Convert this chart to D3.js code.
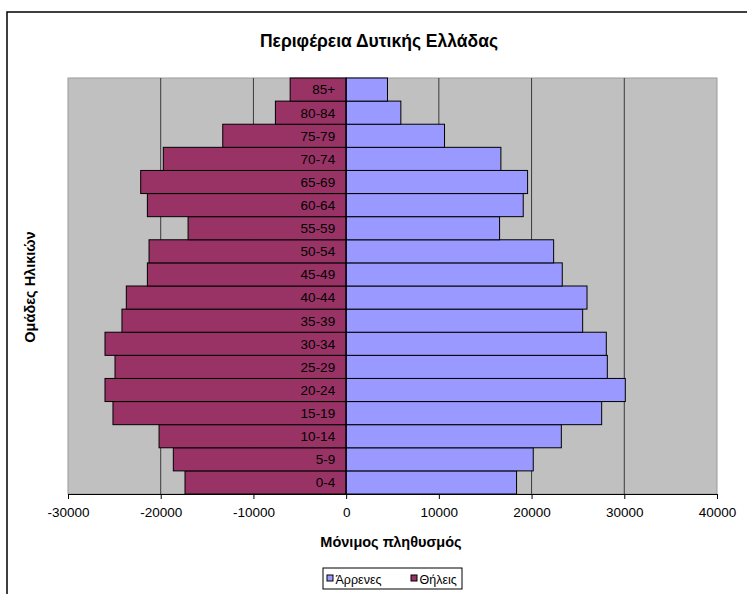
<!DOCTYPE html>
<html>
<head>
<meta charset="utf-8">
<script src="https://cdn.jsdelivr.net/npm/d3@7"></script>
<style>
  body { margin: 0; background: #fff; }
  text { font-family: "Liberation Sans", Arial, sans-serif; fill: #000; }
</style>
</head>
<body>
<svg id="chart"></svg>
<script>
// Age groups, bottom to top
const ageGroups = ["0-4", "5-9", "10-14", "15-19", "20-24", "25-29", "30-34", "35-39", "40-44",
  "45-49", "50-54", "55-59", "60-64", "65-69", "70-74", "75-79", "80-84", "85+"];
// Males (positive side)
const males = [18380, 20180, 23210, 27560, 30110, 28170, 28060, 25510, 25980,
  23310, 22380, 16550, 19100, 19570, 16690, 10610, 5900, 4460];
// Females (drawn on the negative side)
const females = [-17380, -18640, -20180, -25150, -26010, -24930, -26010, -24180, -23710,
  -21440, -21260, -17050, -21440, -22160, -19720, -13310, -7630, -6040];
const xTicks = [-30000, -20000, -10000, 0, 10000, 20000, 30000, 40000];
const seriesNames = ["Άρρενες", "Θήλεις"];

const W = 747, H = 594;
const plot = { left: 68, right: 717, top: 78, bottom: 494 };

const svg = d3.select("#chart")
  .attr("width", W)
  .attr("height", H);

// outer chart border (runs off the right/bottom edge)
svg.append("rect")
  .attr("x", 7).attr("y", 12)
  .attr("width", 800).attr("height", 700)
  .attr("fill", "#fff")
  .attr("stroke", "#000")
  .attr("stroke-width", 1.5);

const x = d3.scaleLinear()
  .domain([-30000, 40000])
  .range([plot.left, plot.right]);

const y = d3.scaleBand()
  .domain(ageGroups.slice().reverse())
  .range([plot.top, plot.bottom])
  .padding(0);

// plot background
svg.append("rect")
  .attr("x", plot.left).attr("y", plot.top)
  .attr("width", plot.right - plot.left)
  .attr("height", plot.bottom - plot.top)
  .attr("fill", "#c0c0c0")
  .attr("stroke", "#9a9a9a");

// vertical gridlines
svg.append("g")
  .selectAll("line")
  .data(xTicks.slice(1, -1))
  .enter()
  .append("line")
  .attr("x1", d => x(d)).attr("x2", d => x(d))
  .attr("y1", plot.top).attr("y2", plot.bottom)
  .attr("stroke", "#3a3a3a")
  .attr("stroke-width", 1);

// bars
const rows = ageGroups.map((g, i) => ({ g, m: males[i], f: females[i] }));

svg.append("g")
  .selectAll("rect")
  .data(rows)
  .enter()
  .append("rect")
  .attr("x", d => x(d.f))
  .attr("y", d => y(d.g))
  .attr("width", d => x(0) - x(d.f))
  .attr("height", y.bandwidth())
  .attr("fill", "#993366")
  .attr("stroke", "#000")
  .attr("stroke-width", 1);

svg.append("g")
  .selectAll("rect")
  .data(rows)
  .enter()
  .append("rect")
  .attr("x", x(0))
  .attr("y", d => y(d.g))
  .attr("width", d => x(d.m) - x(0))
  .attr("height", y.bandwidth())
  .attr("fill", "#9999ff")
  .attr("stroke", "#000")
  .attr("stroke-width", 1);

// vertical axis line at zero
svg.append("line")
  .attr("x1", x(0)).attr("x2", x(0))
  .attr("y1", plot.top).attr("y2", plot.bottom)
  .attr("stroke", "#000");

// category labels sit on top of the bars
svg.append("g")
  .selectAll("text")
  .data(ageGroups)
  .enter()
  .append("text")
  .attr("x", x(0) - 11)
  .attr("y", d => y(d) + y.bandwidth() / 2)
  .attr("dy", "0.36em")
  .attr("text-anchor", "end")
  .style("font-size", "13.5px")
  .text(d => d);

// x axis
const xAxis = svg.append("g")
  .attr("transform", "translate(0," + plot.bottom + ")")
  .call(d3.axisBottom(x)
    .tickValues(xTicks)
    .tickSize(5)
    .tickPadding(8)
    .tickFormat(d => String(d)));
xAxis.select(".domain").attr("stroke", "#000");
xAxis.selectAll(".tick line").attr("stroke", "#000");
xAxis.selectAll(".tick text")
  .style("font-size", "13.5px")
  .style("font-family", "'Liberation Sans', Arial, sans-serif")
  .attr("fill", "#000");

// title
svg.append("text")
  .attr("x", 379).attr("y", 47)
  .attr("text-anchor", "middle")
  .style("font-size", "17.5px")
  .style("font-weight", "bold")
  .text("Περιφέρεια Δυτικής Ελλάδας");

// axis titles
svg.append("text")
  .attr("transform", "translate(35,287) rotate(-90)")
  .attr("text-anchor", "middle")
  .style("font-size", "14.5px")
  .style("font-weight", "bold")
  .text("Ομάδες Ηλικιών");

svg.append("text")
  .attr("x", 391).attr("y", 547)
  .attr("text-anchor", "middle")
  .style("font-size", "14.5px")
  .style("font-weight", "bold")
  .text("Μόνιμος πληθυσμός");

// legend
const legend = svg.append("g");
legend.append("rect")
  .attr("x", 323).attr("y", 568)
  .attr("width", 139).attr("height", 21)
  .attr("fill", "#fff")
  .attr("stroke", "#000");

const legendItems = [
  { name: seriesNames[0], color: "#9999ff", x: 327 },
  { name: seriesNames[1], color: "#993366", x: 411 }
];
const li = legend.selectAll("g.item")
  .data(legendItems)
  .enter()
  .append("g")
  .attr("class", "item");
li.append("rect")
  .attr("x", d => d.x).attr("y", 575)
  .attr("width", 6).attr("height", 6)
  .attr("fill", d => d.color)
  .attr("stroke", "#000");
li.append("text")
  .attr("x", d => d.x + 8.5).attr("y", 584)
  .style("font-size", "12.5px")
  .text(d => d.name);
</script>
</body>
</html>
